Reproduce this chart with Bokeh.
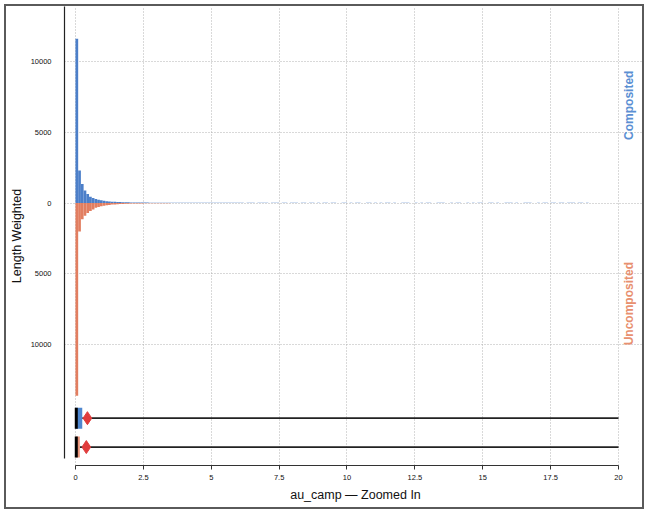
import numpy as np
from bokeh.plotting import figure
from bokeh.models import Range1d, FixedTicker, Label, ColumnDataSource
from bokeh.embed import file_html
from bokeh.resources import INLINE

# ---------------- data ----------------
bin_width = 0.1
composited_head = [11600, 2300, 1350, 880, 640, 440, 350, 280, 230, 190,
                   160, 135, 115, 100, 90, 80, 70, 62, 55, 50,
                   46, 42, 40, 38, 36, 34, 32, 30, 28, 27]
composited_tail = [30, 28, 30, 26, 28, 25, 27, 24, 26, 25,
                   24, 26, 23, 25, 22, 24, 26, 22, 23, 24,
                   22, 25, 21, 23, 24, 20, 22, 23, 21, 22,
                   20, 22, 0, 24, 21, 23, 0, 22, 20, 21,
                   22, 0, 21, 23, 20, 0, 22, 21, 0, 20,
                   23, 21, 0, 22, 20, 0, 21, 22, 0, 20,
                   0, 22, 21, 0, 20, 23, 0, 0, 21, 20,
                   0, 22, 0, 21, 20, 0, 0, 22, 21, 0,
                   20, 0, 23, 0, 21, 22, 0, 20, 0, 0,
                   22, 21, 20, 0, 0, 21, 0, 22, 0, 20,
                   21, 0, 0, 22, 21, 20, 0, 0, 21, 0,
                   20, 22, 0, 0, 21, 0, 20, 0, 22, 21,
                   0, 0, 20, 21, 0, 22, 0, 0, 21, 20,
                   22, 0, 21, 0, 0, 20, 22, 21, 0, 0,
                   21, 0, 20, 22, 0, 21, 20, 0, 22, 21,
                   0, 20, 21, 22, 0, 20, 21, 0, 20, 0,
                   0, 0, 0, 0, 0, 0, 0, 0, 0, 0]
uncomposited_head = [13600, 2000, 1150, 900, 700, 560, 450, 340, 280, 230,
                     190, 160, 130, 110, 95, 80, 70, 60, 52, 45,
                     40, 35, 30, 27, 24, 21, 19, 17, 15, 13,
                     11, 10, 9, 8, 6]
uncomposited_tail = [5, 4, 4, 3, 3, 3, 2, 2, 2, 2,
                     2, 1, 1, 1, 1, 1, 1, 0, 1, 0] + [0] * 145

composited = composited_head + composited_tail
uncomposited = uncomposited_head + uncomposited_tail

# box plot statistics (value units)
box_names = ["Composited", "Uncomposited"]
box_q1 = [0.0, 0.0]
box_median = [0.03, 0.03]
box_q3 = [0.25, 0.16]
box_whisker_hi = [20.0, 20.0]
box_mean = [0.44, 0.40]

x_ticks = [0, 2.5, 5, 7.5, 10, 12.5, 15, 17.5, 20]
y_ticks = [-10000, -5000, 0, 5000, 10000]

# ---------------- colours ----------------
BLUE = "#4c7fc9"
ORANGE = "#e27e60"
BLUE_BOX = "#4f87cf"
ORANGE_BOX = "#eb957a"
BLUE_TXT = "#5b8fd3"
ORANGE_TXT = "#e8906f"
FONT = "Liberation Sans"

X0, X1 = -0.4037, 21.03
Y0, Y1 = -18520, 13870

p = figure(width=640, height=505, output_backend="svg", toolbar_location=None,
           x_range=Range1d(X0, X1), y_range=Range1d(Y0, Y1),
           min_border_left=57, min_border_right=0, min_border_top=0,
           min_border_bottom=46)
p.styles = {"border": "2px solid #5a5a5a", "margin-left": "4px",
            "margin-top": "4px"}
p.outline_line_color = None
p.background_fill_color = "white"

# histogram
starts = np.arange(len(composited)) * bin_width
src_c = ColumnDataSource(dict(left=starts, right=starts + bin_width,
                              top=composited, bottom=[0] * len(composited)))
src_u = ColumnDataSource(dict(left=starts, right=starts + bin_width,
                              top=[0] * len(uncomposited),
                              bottom=[-v for v in uncomposited]))
p.quad(left="left", right="right", top="top", bottom="bottom", source=src_c,
       fill_color=BLUE, line_color=None)
p.quad(left="left", right="right", top="top", bottom="bottom", source=src_u,
       fill_color=ORANGE, line_color=None)

# box plots
box_y = [-15180, -17220]
box_h = 1480
box_fill = [BLUE_BOX, ORANGE_BOX]
for i in range(2):
    y = box_y[i]
    p.segment(x0=[box_q3[i]], y0=[y], x1=[box_whisker_hi[i]], y1=[y],
              line_color="#222222", line_width=1.6)
    p.quad(left=[box_q1[i]], right=[box_q3[i]], top=[y + box_h / 2],
           bottom=[y - box_h / 2], fill_color=box_fill[i], line_color=None)
    p.segment(x0=[box_median[i]], y0=[y - box_h / 2], x1=[box_median[i]],
              y1=[y + box_h / 2], line_color="black", line_width=3)
    p.scatter(x=[box_mean[i]], y=[y], marker="diamond", size=13,
              fill_color="#e03c3c", line_color="#e03c3c")

# axes
xa = p.xaxis[0]
xa.ticker = FixedTicker(ticks=x_ticks)
xa.bounds = (0, 20)
xa.major_label_overrides = {0: "0", 2.5: "2.5", 5: "5", 7.5: "7.5", 10: "10",
                            12.5: "12.5", 15: "15", 17.5: "17.5", 20: "20"}
xa.axis_label = "au_camp — Zoomed In"
xa.axis_label_text_font = FONT
xa.axis_label_text_font_size = "12.5px"
xa.axis_label_text_font_style = "normal"
xa.axis_label_text_color = "#111111"
xa.axis_label_standoff = 5
xa.major_label_text_font = FONT
xa.major_label_text_font_size = "7.5px"
xa.major_label_text_color = "#111111"
xa.major_label_standoff = 5
xa.major_tick_out = 4
xa.major_tick_in = 0
xa.minor_tick_line_color = None
xa.axis_line_color = "#333333"
xa.major_tick_line_color = "#333333"

ya = p.yaxis[0]
ya.ticker = FixedTicker(ticks=y_ticks)
ya.bounds = (-18030, Y1)
ya.major_label_overrides = {-10000: "10000", -5000: "5000", 0: "0",
                            5000: "5000", 10000: "10000"}
ya.axis_label = "Length Weighted"
ya.axis_label_text_font = FONT
ya.axis_label_text_font_size = "12.5px"
ya.axis_label_text_font_style = "normal"
ya.axis_label_text_color = "#111111"
ya.axis_label_standoff = 4
ya.major_label_text_font = FONT
ya.major_label_text_font_size = "7.5px"
ya.major_label_text_color = "#111111"
ya.major_label_standoff = 13
ya.major_tick_out = 0
ya.major_tick_in = 0
ya.minor_tick_line_color = None
ya.axis_line_color = "#222222"
ya.axis_line_width = 1.2

# grid
for g in (p.xgrid[0], p.ygrid[0]):
    g.grid_line_color = "#aaaaaa"
    g.grid_line_dash = "1 2"
    g.grid_line_width = 0.9
p.ygrid[0].ticker = FixedTicker(ticks=y_ticks)
p.xgrid[0].ticker = FixedTicker(ticks=x_ticks)
p.ygrid[0].bounds = (X0, 20.0)
p.xgrid[0].bounds = (-18030, Y1)

# side labels
p.add_layout(Label(x=20.37, y=6900, text="Composited", angle=np.pi / 2,
                   text_align="center", text_baseline="middle",
                   text_color=BLUE_TXT, text_font=FONT, text_font_size="12px",
                   text_font_style="bold"))
p.add_layout(Label(x=20.37, y=-7100, text="Uncomposited", angle=np.pi / 2,
                   text_align="center", text_baseline="middle",
                   text_color=ORANGE_TXT, text_font=FONT, text_font_size="12px",
                   text_font_style="bold"))

open("out.html", "w").write(file_html(p, INLINE))
